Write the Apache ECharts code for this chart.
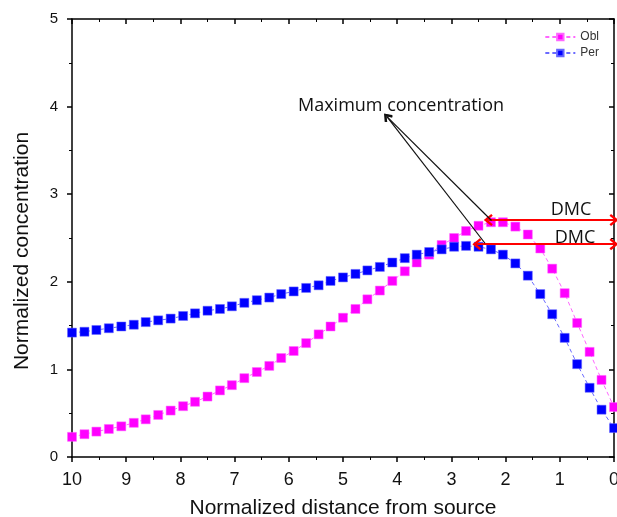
<!DOCTYPE html>
<html>
<head>
<meta charset="UTF-8">
<title>Normalized concentration</title>
<script src="https://cdn.jsdelivr.net/npm/echarts@6.0.0/dist/echarts.min.js"></script>
<style>
	html, body { margin: 0; padding: 0; background: #fff; }
	#chart { width: 617px; height: 517px; }
</style>
</head>
<body>
<div id="chart"></div>
<script>
// normalized distance from source (axis runs 10 -> 0)
var distance = [10, 9.77, 9.55, 9.32, 9.09, 8.86, 8.64, 8.41, 8.18, 7.95, 7.73, 7.50, 7.27, 7.05, 6.82,
	6.59, 6.36, 6.14, 5.91, 5.68, 5.45, 5.23, 5.00, 4.77, 4.55, 4.32, 4.09, 3.86, 3.64, 3.41,
	3.18, 2.95, 2.73, 2.50, 2.27, 2.05, 1.82, 1.59, 1.36, 1.14, 0.91, 0.68, 0.45, 0.23, 0];
var obl = [0.23, 0.26, 0.29, 0.32, 0.35, 0.39, 0.43, 0.48, 0.53, 0.58, 0.63, 0.69, 0.76, 0.82, 0.90,
	0.97, 1.04, 1.13, 1.21, 1.30, 1.40, 1.49, 1.59, 1.69, 1.80, 1.90, 2.01, 2.12, 2.22, 2.31,
	2.42, 2.50, 2.58, 2.64, 2.68, 2.68, 2.63, 2.54, 2.38, 2.15, 1.87, 1.53, 1.20, 0.88, 0.57];
var per = [1.42, 1.43, 1.45, 1.47, 1.49, 1.51, 1.54, 1.56, 1.58, 1.61, 1.64, 1.67, 1.69, 1.72, 1.76,
	1.79, 1.82, 1.86, 1.89, 1.93, 1.96, 2.01, 2.05, 2.09, 2.13, 2.17, 2.22, 2.27, 2.31, 2.34,
	2.37, 2.40, 2.41, 2.40, 2.37, 2.31, 2.21, 2.07, 1.86, 1.63, 1.36, 1.06, 0.79, 0.54, 0.33];
var xTicks = [0, 1, 2, 3, 4, 5, 6, 7, 8, 9, 10];
var yTicks = [0, 1, 2, 3, 4, 5];

// annotation anchors [distance, concentration]
var dmcObl = [[2.32, 2.705], [0, 2.705]];
var dmcPer = [[2.53, 2.43], [0, 2.43]];
var maxLabel = [4.19, 3.885];
var maxObl = [2.26, 2.70];
var maxPer = [2.38, 2.44];

function pairs(xs, ys) {
	var out = [];
	for (var i = 0; i < xs.length; i++) {
		out.push([xs[i], ys[i]]);
	}
	return out;
}

var chevron = 'path://M0,10 L10,0 L20,10 L17,12 L10,5 L3,12 Z';

var chart = echarts.init(document.getElementById('chart'));
var lineBlack = { color: '#000', width: 1.5 };
function axisBase(inside) {
	return {
		type: 'value',
		axisLine: { show: true, onZero: false, lineStyle: lineBlack },
		axisTick: { show: true, inside: inside, length: 5, lineStyle: lineBlack },
		minorTick: { show: true, splitNumber: 2, length: 3, lineStyle: { color: '#000', width: 1 } },
		splitLine: { show: false }
	};
}

chart.setOption({
	animation: false,
	backgroundColor: '#fff',
	grid: { left: 72, right: 3, top: 19, bottom: 60, outerBoundsMode: 'none', containLabel: false },
	legend: {
		orient: 'vertical',
		right: 13,
		top: 26,
		itemWidth: 30,
		itemHeight: 8,
		itemGap: 4,
		textStyle: { fontFamily: 'Liberation Sans', fontSize: 12, color: '#333' },
		data: ['Obl', 'Per']
	},
	xAxis: [
		Object.assign(axisBase(false), {
			position: 'bottom',
			inverse: true,
			min: 0, max: 10, interval: 1,
			name: 'Normalized distance from source',
			nameLocation: 'middle',
			nameGap: 41,
			nameTextStyle: { fontFamily: 'Liberation Sans', fontSize: 21, color: '#111' },
			axisLabel: {
				margin: 14, fontFamily: 'Liberation Sans', fontSize: 18, color: '#111',
				customValues: xTicks
			}
		}),
		Object.assign(axisBase(true), {
			position: 'top',
			inverse: true,
			min: 0, max: 10, interval: 1,
			axisLabel: { show: false }
		})
	],
	yAxis: [
		Object.assign(axisBase(false), {
			position: 'left',
			min: 0, max: 5, interval: 1,
			name: 'Normalized concentration',
			nameLocation: 'middle',
			nameGap: 39,
			nameTextStyle: { fontFamily: 'Liberation Sans', fontSize: 21, color: '#111', padding: [0, 26, 0, 0] },
			axisLabel: {
				margin: 14, fontFamily: 'Liberation Sans', fontSize: 15, color: '#111',
				customValues: yTicks
			}
		}),
		Object.assign(axisBase(true), {
			position: 'right',
			min: 0, max: 5, interval: 1,
			axisLabel: { show: false }
		})
	],
	graphic: [
		{
			type: 'text',
			style: {
				x: 401, y: 106, text: 'Maximum concentration',
				font: '18px "Open Sans"', fill: '#111',
				textAlign: 'center', textVerticalAlign: 'middle'
			}
		},
		{
			type: 'text',
			style: {
				x: 571, y: 210, text: 'DMC',
				font: '18px "Open Sans"', fill: '#111',
				textAlign: 'center', textVerticalAlign: 'middle'
			}
		},
		{
			type: 'text',
			style: {
				x: 575, y: 238, text: 'DMC',
				font: '18px "Open Sans"', fill: '#111',
				textAlign: 'center', textVerticalAlign: 'middle'
			}
		}
	],
	series: [
		{
			name: 'Obl',
			type: 'line',
			data: pairs(distance, obl),
			symbol: 'rect',
			symbolSize: 9,
			itemStyle: { color: '#ff00ff', borderColor: '#ff66ff', borderWidth: 0.5 },
			lineStyle: { color: '#ff66ff', width: 1, type: [4, 3] },
			z: 2,
			markLine: {
				silent: true,
				animation: false,
				label: { show: false },
				data: [
					[{ coord: dmcObl[0], symbol: chevron, symbolSize: [12, 9] },
					 { coord: dmcObl[1], symbol: chevron, symbolSize: [12, 9] }],
					[{ coord: dmcPer[0], symbol: chevron, symbolSize: [12, 9] },
					 { coord: dmcPer[1], symbol: chevron, symbolSize: [12, 9] }]
				],
				lineStyle: { color: '#ff0000', width: 2, type: 'solid' }
			}
		},
		{
			name: 'Per',
			type: 'line',
			data: pairs(distance, per),
			symbol: 'rect',
			symbolSize: 9,
			itemStyle: { color: '#0000ff', borderColor: '#6666ff', borderWidth: 0.5 },
			lineStyle: { color: '#6a6aff', width: 1, type: [4, 3] },
			z: 3,
			markLine: {
				silent: true,
				animation: false,
				label: { show: false },
				data: [
					[{ coord: maxLabel, symbol: chevron, symbolSize: [10, 8] },
					 { coord: maxObl, symbol: 'none' }],
					[{ coord: maxLabel, symbol: chevron, symbolSize: [10, 8] },
					 { coord: maxPer, symbol: 'none' }]
				],
				lineStyle: { color: '#111', width: 1.2, type: 'solid' }
			}
		}
	]
});
</script>
</body>
</html>
